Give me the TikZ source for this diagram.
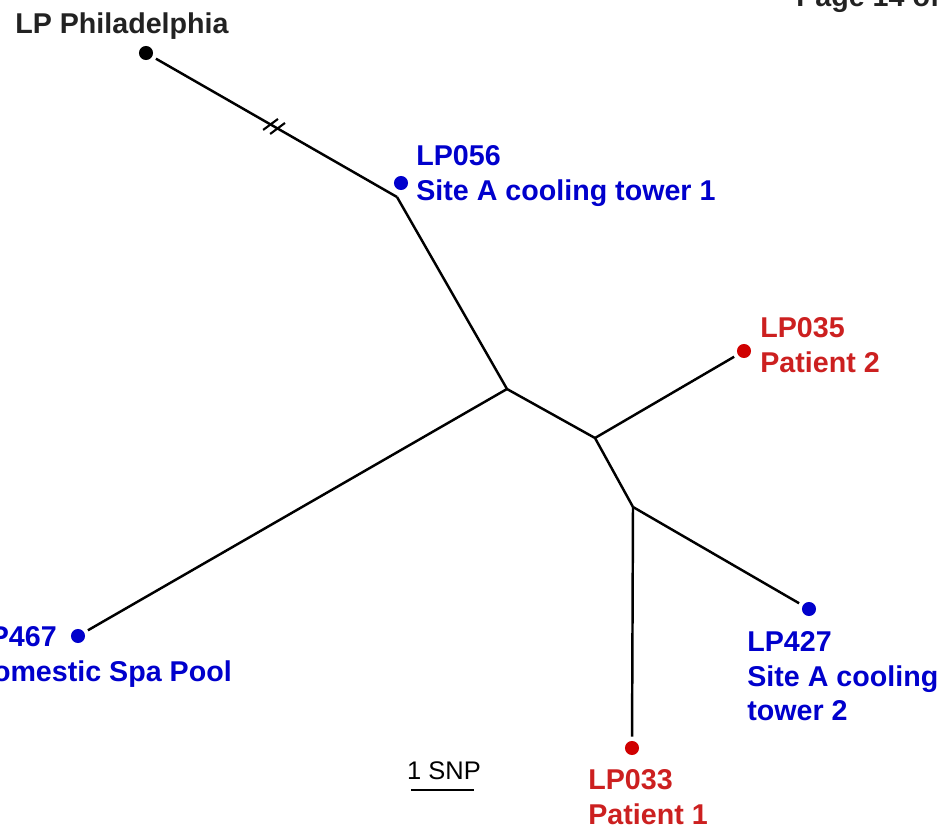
\documentclass[tikz,border=0pt]{standalone}
\usepackage{fontspec}
\setmainfont{Liberation Sans}
\usepackage{xcolor}
\usepackage{tikz}
\usetikzlibrary{decorations.markings}
\definecolor{SiteBlue}{RGB}{0,0,204}
\definecolor{PatientRed}{RGB}{204,32,32}
\definecolor{TipRed}{RGB}{208,0,0}
\definecolor{RefGrey}{RGB}{34,34,34}
\tikzset{
    Tip/.style = {fill,circle,inner sep=0pt,minimum size=8pt,outer sep=2.5pt},
    Branch/.style = {line width=1.4pt},
    Label/.style = {anchor=north west,inner sep=0pt,align=left,
        font=\bfseries\fontsize{16.3}{19.8}\selectfont},
    insert break/.style = {decoration={
         markings,
         mark=at position #1 with {
            \draw[line width=1.2pt] (-4.4pt,-4.8pt) -- (-0.2pt,4.8pt);
            \draw[line width=1.2pt] (0.2pt,-4.8pt) -- (4.4pt,4.8pt);},
        },
     postaction=decorate
     }
}

\begin{document}
\begin{tikzpicture}[x=0.02cm,y=-0.02cm]
    \useasboundingbox (0,0) rectangle (948,836);
    % inner nodes of the tree
    \coordinate (jA) at (397,197);
    \coordinate (jB) at (507,389);
    \coordinate (jC) at (595,438);
    \coordinate (jD) at (633,507);
    % tips
    \node[Tip,black] (philly) at (146,53) {};
    \node[Tip,SiteBlue] (lp056) at (401,183) {};
    \node[Tip,TipRed] (lp035) at (744,351) {};
    \node[Tip,SiteBlue] (lp467) at (78,636) {};
    \node[Tip,SiteBlue] (lp427) at (809,609) {};
    \node[Tip,TipRed] (lp033) at (632,748) {};
    % branches
    \draw[Branch,insert break=0.49] (philly) -- (jA);
    \draw[Branch] (jA) -- (jB) -- (jC) -- (jD);
    \draw[Branch] (jB) -- (lp467);
    \draw[Branch] (jC) -- (lp035);
    \draw[Branch] (jD) -- (lp427);
    \draw[Branch] (jD) -- (lp033);
    % labels
    \node[Label,text=RefGrey] (lPhilly) at (15,12) {LP Philadelphia};
    \node[Label,text=SiteBlue] (l056) at (416,145) {LP056\\Site A cooling tower 1};
    \node[Label,text=PatientRed] (l035) at (760,317) {LP035\\Patient 2};
    \node[Label,text=SiteBlue] (l467) at (-28,626) {LP467\\Domestic Spa Pool};
    \node[Label,text=SiteBlue] (l427) at (747,631) {LP427\\Site A cooling\\tower 2};
    \node[Label,text=PatientRed] (l033) at (588,769) {LP033\\Patient 1};
    \node[anchor=base west,inner sep=0pt,text=RefGrey,
        font=\bfseries\fontsize{16.3}{19.8}\selectfont] (page) at (796,6) {Page 14 of 1};
    % scale bar
    \coordinate (snpL) at (411,790);
    \coordinate (snpR) at (474,790);
    \draw[Branch] (snpL) -- (snpR);
    \node[font=\fontsize{14.5}{17}\selectfont] (snp) at (444,771) {1 SNP};
\end{tikzpicture}
\end{document}
